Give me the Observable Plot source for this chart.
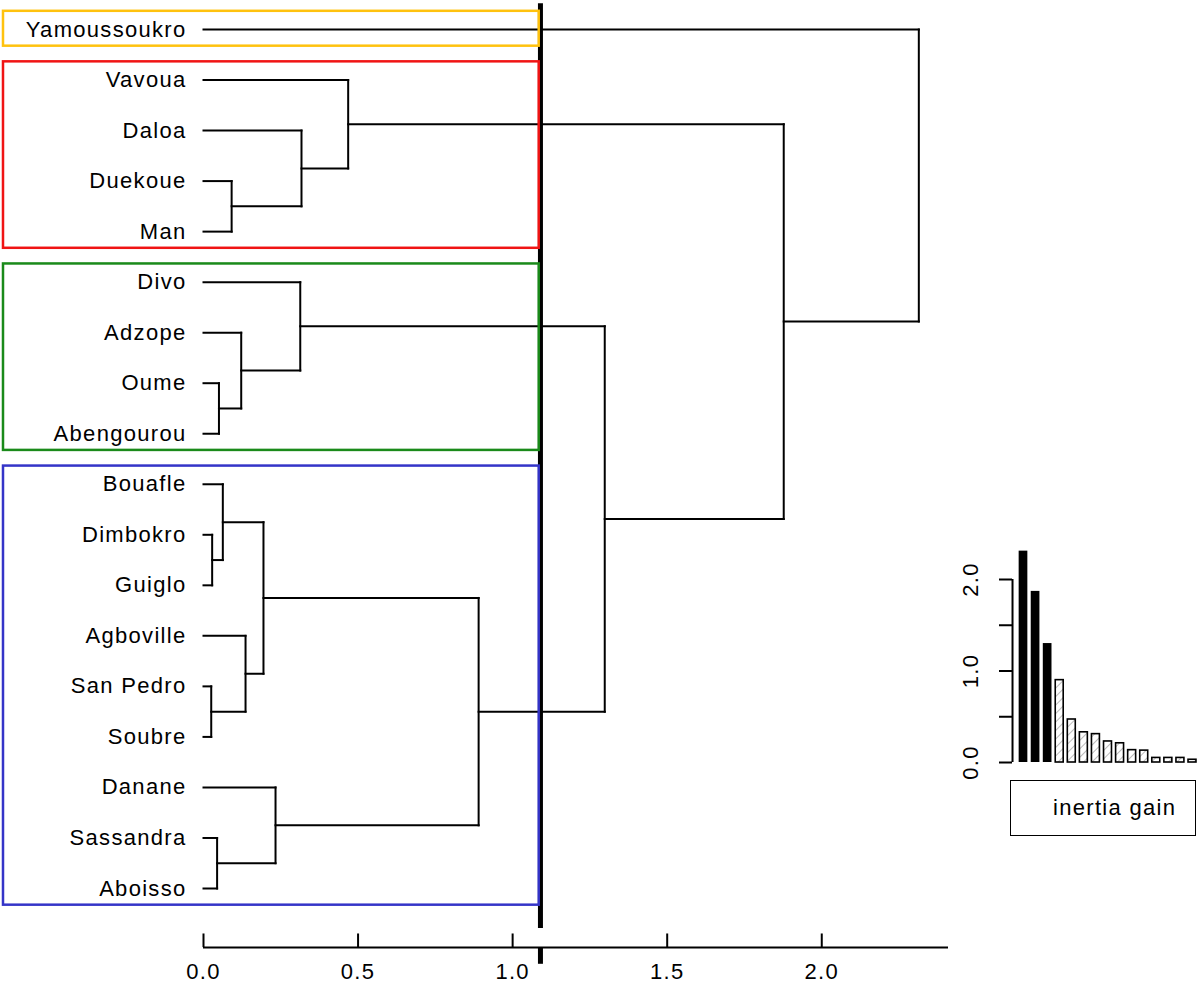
<!DOCTYPE html>
<html><head><meta charset="utf-8">
<script src="https://cdn.jsdelivr.net/npm/d3@7"></script>
<script src="https://cdn.jsdelivr.net/npm/@observablehq/plot@0.6"></script>
<style>
body{margin:0;background:#fff;font-family:"Liberation Sans",Arial,sans-serif;}
#wrap{position:relative;width:1200px;height:992px;overflow:hidden;background:#fff}
#wrap svg text{letter-spacing:1.3px}
#inset{position:absolute;left:940px;top:540px}
#legend{position:absolute;left:1010px;top:780px;width:186px;height:56px;box-sizing:border-box;border:1.5px solid #000;font-size:22px;letter-spacing:1.3px;color:#000}
#legend span{position:absolute;left:42px;top:16px;line-height:22px}
</style></head><body><div id="wrap"></div>
<script>
// leaves in dendrogram order (top to bottom)
const leaves = ["Yamoussoukro","Vavoua","Daloa","Duekoue","Man","Divo","Adzope","Oume","Abengourou",
  "Bouafle","Dimbokro","Guiglo","Agboville","San Pedro","Soubre","Danane","Sassandra","Aboisso"];
// hclust-style merges: negative = leaf (1-based), positive = earlier merge (1-based)
const mergeLeft   = [-4, -3, -2, -8, -7, -6, -11, -10, -14, -13,  8, -17, -16, 11,  6,  3, -1];
const mergeRight  = [-5,  1,  2, -9,  4,  5, -12,   7, -15,   9, 10, -18,  12, 13, 14, 15, 16];
const mergeHeight = [0.091, 0.317, 0.468, 0.050, 0.122, 0.313, 0.028, 0.0625, 0.025, 0.136, 0.194,
  0.044, 0.233, 0.890, 1.298, 1.877, 2.314];
const cutHeight = 1.09;
// clusters (leaf index ranges)
const clusterFirst = [0, 1, 5, 9];
const clusterLast  = [0, 4, 8, 17];
const clusterColors = ["#FFC20E", "#F01414", "#1A8A1A", "#3434C8"];
// axis
const axisTicks  = [0, 0.5, 1.0, 1.5, 2.0];
const axisLabels = ["0.0", "0.5", "1.0", "1.5", "2.0"];
// inertia gain inset
const inertiaGain = [2.31, 1.87, 1.30, 0.90, 0.47, 0.33, 0.31, 0.23, 0.21, 0.135, 0.13, 0.05, 0.05, 0.05, 0.03];
const nFilled = 3;
const inertiaTicks  = [0, 0.5, 1.0, 1.5, 2.0];
const inertiaLabels = ["0.0", "", "1.0", "", "2.0"];
const legendText = "inertia gain";

// ---- build dendrogram segments
const nodes = [];
const segs = [];
const pos = k => k < 0 ? {x: 0, y: -k - 1} : nodes[k - 1];
for (let i = 0; i < mergeHeight.length; i++) {
  const a = pos(mergeLeft[i]), b = pos(mergeRight[i]), h = mergeHeight[i];
  nodes.push({x: h, y: (a.y + b.y) / 2});
  segs.push({x1: a.x, y1: a.y, x2: h, y2: a.y});
  segs.push({x1: b.x, y1: b.y, x2: h, y2: b.y});
  segs.push({x1: h, y1: a.y, x2: h, y2: b.y});
}
const clusters = clusterFirst.map((f, i) => ({first: f, last: clusterLast[i], color: clusterColors[i]}));

const xMax = 2.41, boxLeft = -0.647;
const axisRow = 18.17, tickTop = 17.9, labelRow = 18.8, cutTop = -0.51, cutBottom = 17.79, cutTickBottom = 18.5;

const main = Plot.plot({
  width: 1200, height: 992,
  marginTop: 29, marginBottom: 104, marginLeft: 203, marginRight: 252,
  x: {domain: [0, xMax], axis: null},
  y: {domain: [0, 17], reverse: true, axis: null},
  color: {type: "identity"},
  style: {fontFamily: "'Liberation Sans', Arial, sans-serif", fontSize: "22px", background: "white", overflow: "visible"},
  marks: [
    Plot.link(segs, {x1: "x1", y1: "y1", x2: "x2", y2: "y2", stroke: "black", strokeWidth: 2, strokeLinecap: "square"}),
    Plot.ruleX([cutHeight], {x: d => d, y1: () => cutTop, y2: () => cutBottom, stroke: "black", strokeWidth: 5}),
    Plot.rect(clusters, {x1: () => boxLeft, x2: () => cutHeight - 0.004, y1: d => d.first - 0.36, y2: d => d.last + 0.33,
      fill: "none", stroke: "color", strokeWidth: 2.5}),
    Plot.text(leaves, {x: () => 0, y: (d, i) => i, text: d => d, textAnchor: "end", dx: -17, fontSize: 22, fill: "black"}),
    Plot.ruleY([axisRow], {y: d => d, x1: () => 0, x2: () => xMax, stroke: "black", strokeWidth: 2}),
    Plot.ruleX(axisTicks, {x: d => d, y1: () => tickTop, y2: () => axisRow, stroke: "black", strokeWidth: 2}),
    Plot.ruleX([cutHeight], {x: d => d, y1: () => axisRow, y2: () => cutTickBottom, stroke: "black", strokeWidth: 5}),
    Plot.text(axisTicks, {x: d => d, y: () => labelRow, text: (d, i) => axisLabels[i], lineAnchor: "bottom", fontSize: 22, fill: "black"})
  ]
});

const bars = inertiaGain.map((v, i) => ({rank: i + 1, gain: v, filled: i < nFilled}));
const axX = 0.09;
const inset = Plot.plot({
  width: 260, height: 260,
  marginTop: 39, marginBottom: 38, marginLeft: 83, marginRight: 8,
  x: {domain: [1, 15], axis: null},
  y: {domain: [0, 2], axis: null},
  style: {fontFamily: "'Liberation Sans', Arial, sans-serif", fontSize: "22px", background: "transparent", overflow: "visible"},
  marks: [
    Plot.rect(bars.filter(d => d.filled), {x1: d => d.rank - 0.36, x2: d => d.rank + 0.36, y1: () => 0, y2: "gain", fill: "black"}),
    Plot.rect(bars.filter(d => !d.filled), {x1: d => d.rank - 0.33, x2: d => d.rank + 0.33, y1: () => 0, y2: "gain",
      fill: "url(#hatch)", stroke: "black", strokeWidth: 1.6}),
    Plot.ruleX([axX], {x: d => d, y1: () => 0, y2: () => 2, stroke: "black", strokeWidth: 2}),
    Plot.ruleY(inertiaTicks, {y: d => d, x1: () => axX - 1.08, x2: () => axX, stroke: "black", strokeWidth: 2}),
    Plot.text(inertiaTicks, {y: d => d, x: () => axX - 3.45, text: (d, i) => inertiaLabels[i], rotate: -90, fontSize: 22, fill: "black"})
  ]
});
inset.id = "inset";
const defs = d3.select(inset).insert("defs", ":first-child");
const pat = defs.append("pattern").attr("id", "hatch").attr("patternUnits", "userSpaceOnUse")
  .attr("width", 6).attr("height", 6).attr("patternTransform", "rotate(45)");
pat.append("rect").attr("width", 6).attr("height", 6).attr("fill", "white");
pat.append("line").attr("x1", 0).attr("y1", 0).attr("x2", 0).attr("y2", 6).attr("stroke", "#555").attr("stroke-width", 0.8);

const wrap = document.getElementById("wrap");
wrap.appendChild(main);
wrap.appendChild(inset);
const legend = document.createElement("div");
legend.id = "legend";
const span = document.createElement("span");
span.textContent = legendText;
legend.appendChild(span);
wrap.appendChild(legend);
</script></body></html>
